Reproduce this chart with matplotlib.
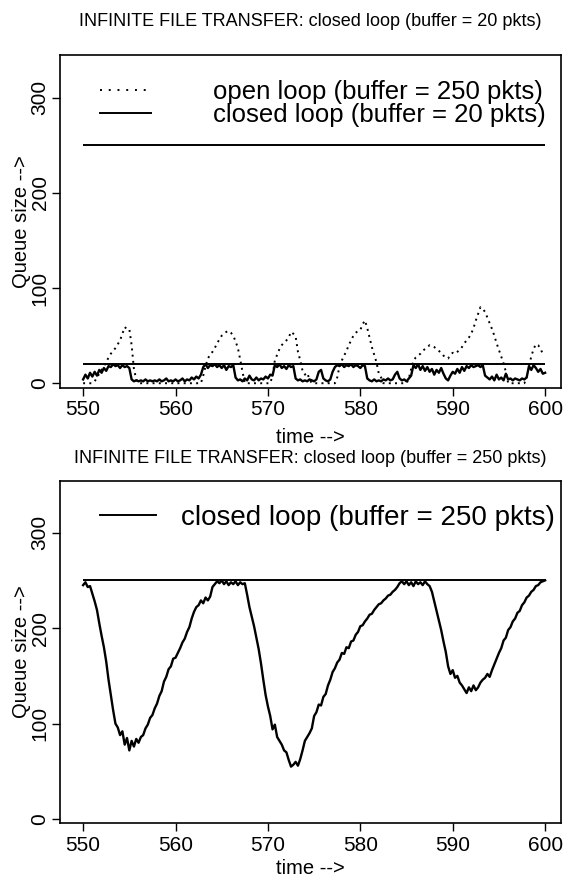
import numpy as np
import matplotlib.pyplot as plt
from matplotlib.lines import Line2D

plt.rcParams['font.family'] = ['Liberation Sans', 'DejaVu Sans']

# sample times (every 0.25 time units from 550 to 600)
time = np.arange(550, 600.001, 0.25)

# buffer sizes (drawn as horizontal reference lines)
OPEN_BUFFER = 250
SMALL_BUFFER = 20
BIG_BUFFER = 250

# closed loop queue, buffer = 20 pkts
closed20 = [
    4, 9, 5, 11, 7, 12, 8, 14, 11, 16, 13, 18, 17, 20, 18, 19, 16, 19, 17, 18,
    16, 4, 2, 3, 2, 3, 2, 4, 2, 3, 2, 3, 2, 4, 2, 3, 5, 2, 3, 2,
    4, 2, 3, 5, 2, 4, 3, 6, 4, 7, 5, 9, 17, 20, 16, 19, 18, 20, 17, 19,
    16, 19, 14, 18, 17, 19, 6, 3, 4, 2, 5, 3, 8, 4, 3, 6, 3, 5, 4, 7,
    5, 9, 8, 19, 17, 20, 16, 18, 15, 19, 17, 18, 5, 3, 4, 2, 3, 2, 4, 3,
    2, 4, 12, 14, 5, 3, 2, 4, 12, 17, 19, 18, 20, 17, 19, 18, 20, 17, 19, 18,
    16, 19, 18, 5, 3, 2, 4, 2, 3, 2, 4, 3, 5, 3, 4, 9, 12, 5, 3, 4,
    2, 5, 8, 19, 16, 20, 14, 18, 13, 17, 12, 15, 9, 14, 11, 16, 10, 5, 3, 8,
    12, 10, 15, 11, 17, 13, 18, 16, 19, 17, 18, 19, 17, 19, 8, 6, 4, 7, 3, 9,
    4, 6, 3, 10, 4, 5, 3, 5, 4, 3, 5, 4, 6, 18, 14, 19, 16, 12, 15, 10,
    11,
]

# open loop queue, buffer = 250 pkts
open250 = [
    0, 0, 0, 0, 0, 2, 6, 10, 14, 18, 22, 27, 31, 34, 37, 41, 45, 52, 59, 57,
    57, 40, 15, 4, 0, 0, 0, 0, 0, 0, 0, 0, 0, 0, 0, 0, 0, 0, 0, 0,
    0, 0, 0, 0, 0, 0, 0, 0, 0, 0, 0, 0, 8, 18, 26, 30, 33, 37, 42, 46,
    50, 52, 54, 55, 53, 50, 44, 37, 25, 12, 0, 0, 0, 0, 0, 0, 0, 0, 0, 0,
    0, 0, 8, 24, 30, 36, 40, 43, 45, 48, 54, 52, 49, 33, 24, 13, 9, 11, 4, 0,
    0, 0, 0, 0, 0, 0, 0, 0, 0, 0, 6, 18, 24, 29, 34, 40, 45, 50, 53, 55,
    56, 62, 66, 58, 48, 38, 30, 22, 10, 6, 0, 0, 0, 0, 0, 0, 0, 0, 0, 0,
    0, 5, 15, 24, 27, 29, 31, 34, 36, 38, 40, 39, 38, 36, 34, 32, 29, 27, 26, 30,
    32, 31, 33, 35, 38, 42, 45, 48, 52, 58, 66, 73, 80, 78, 75, 69, 63, 57, 50, 42,
    35, 28, 21, 12, 0, 0, 0, 0, 0, 0, 0, 0, 6, 18, 28, 36, 41, 40, 36, 31,
    30,
]

# closed loop queue, buffer = 250 pkts
closed250 = [
    245, 248, 243, 244, 236, 228, 219, 205, 192, 180, 165, 146, 130, 114, 100, 96, 88, 92, 78, 85,
    72, 82, 76, 84, 80, 86, 88, 95, 99, 106, 109, 116, 121, 129, 134, 144, 149, 157, 160, 168,
    169, 174, 179, 185, 189, 196, 201, 210, 217, 222, 224, 229, 226, 232, 229, 233, 243, 246, 249, 247,
    250, 246, 249, 245, 248, 246, 249, 245, 248, 246, 247, 235, 222, 212, 202, 190, 178, 163, 146, 130,
    118, 108, 94, 99, 86, 82, 78, 72, 70, 62, 55, 57, 60, 56, 63, 72, 82, 86, 90, 95,
    108, 112, 120, 119, 128, 131, 140, 146, 154, 158, 164, 167, 174, 173, 180, 179, 186, 187, 193, 196,
    202, 203, 207, 210, 214, 215, 219, 222, 225, 226, 229, 231, 234, 235, 238, 240, 243, 247, 249, 246,
    249, 245, 248, 244, 249, 246, 248, 245, 249, 246, 244, 238, 228, 218, 208, 198, 186, 175, 160, 152,
    156, 148, 150, 143, 140, 136, 132, 138, 134, 140, 135, 138, 143, 146, 148, 152, 149, 156, 162, 168,
    174, 179, 187, 190, 198, 201, 207, 210, 216, 218, 224, 227, 232, 234, 238, 240, 244, 245, 248, 249,
    250,
]

x_ticks = [550, 560, 570, 580, 590, 600]
y_ticks = [0, 100, 200, 300]

fig = plt.figure(figsize=(5.64, 8.84), dpi=100)
ax1 = fig.add_axes([0.1064, 0.5611, 0.888, 0.3767])
ax2 = fig.add_axes([0.1064, 0.069, 0.888, 0.3869])


def style(ax, ylim, xpad):
    ax.set_xlim(547.5, 601.7)
    ax.set_ylim(*ylim)
    ax.set_xticks(x_ticks)
    ax.set_yticks(y_ticks)
    ax.tick_params(direction='out', length=6, width=1, labelsize=15, pad=3)
    ax.tick_params(axis='y', pad=1.5)
    for lab in ax.get_yticklabels():
        lab.set_rotation(90)
        lab.set_va('center')
    for s in ax.spines.values():
        s.set_linewidth(1.2)
    ax.set_xlabel('time -->', fontsize=14.5, labelpad=xpad)
    ax.set_ylabel('Queue size -->', fontsize=14.5, labelpad=0)


# top panel
ax1.plot(time, open250, color='black', lw=1.4, ls=(0, (1, 2.2)))
ax1.plot(time, closed20, color='black', lw=1.7)
ax1.hlines(OPEN_BUFFER, time[0], time[-1], color='black', lw=1.4)
ax1.hlines(SMALL_BUFFER, time[0], time[-1], color='black', lw=1.4)
style(ax1, (-5, 345), 6)
ax1.set_title('INFINITE FILE TRANSFER: closed loop (buffer = 20 pkts)',
              fontsize=13, pad=21)
h1 = [Line2D([], [], color='black', lw=1.4, ls=(0, (1, 3.5))),
      Line2D([], [], color='black', lw=1.4)]
ax1.legend(h1, ['open loop (buffer = 250 pkts)', 'closed loop (buffer = 20 pkts)'],
           loc='upper left', bbox_to_anchor=(0.08, 0.925), frameon=False,
           fontsize=18.5, handlelength=2.0, handletextpad=2.4, labelspacing=-0.04,
           borderpad=0, borderaxespad=0)

# bottom panel
ax2.plot(time, closed250, color='black', lw=1.7)
ax2.hlines(BIG_BUFFER, time[0], time[-1], color='black', lw=1.4)
style(ax2, (-4, 354), 3)
ax2.set_title('INFINITE FILE TRANSFER: closed loop (buffer = 250 pkts)',
              fontsize=13, pad=13)
h2 = [Line2D([], [], color='black', lw=1.4)]
ax2.legend(h2, ['closed loop (buffer = 250 pkts)'],
           loc='upper left', bbox_to_anchor=(0.08, 0.93), frameon=False,
           fontsize=20, handlelength=2.0, handletextpad=0.9,
           borderpad=0, borderaxespad=0)

fig.savefig('out.png', dpi=100)
